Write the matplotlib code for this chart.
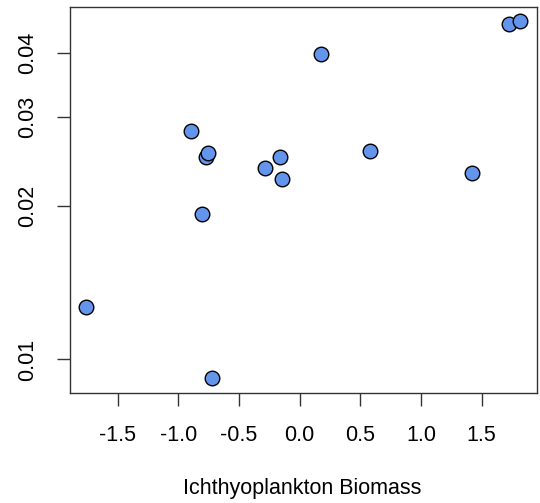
import matplotlib
matplotlib.use("Agg")
import matplotlib.pyplot as plt

# data (x = ichthyoplankton biomass, y on a log axis)
biomass = [-0.899, -0.770, -0.758, -0.284, -0.805, 0.173, 1.728, 1.814,
           -0.165, -0.143, 0.580, 1.418, -1.759, -0.723]
response = [0.0281, 0.0250, 0.0255, 0.0238, 0.0193, 0.0398, 0.0457, 0.0462,
            0.0250, 0.0226, 0.0257, 0.0233, 0.0127, 0.0092]

x_ticks = [-1.5, -1.0, -0.5, 0.0, 0.5, 1.0, 1.5]
y_ticks = [0.01, 0.02, 0.03, 0.04]
y_labels = ["0.01", "0.02", "0.03", "0.04"]

plt.rcParams['font.family'] = ['Liberation Sans', 'DejaVu Sans']

fig = plt.figure(figsize=(5.4, 5.03), dpi=100)
ax = fig.add_axes([0.129, 0.218, 0.865, 0.7675])

ax.scatter(biomass, response, s=110, c='#6495ED', edgecolors='black',
           linewidths=1.0, zorder=3)

ax.set_yscale('log')
ax.set_xlim(-1.896, 1.954)
ax.set_ylim(0.00858, 0.0492)

ax.set_xticks(x_ticks)
ax.set_xticklabels([f"{v:.1f}" for v in x_ticks])
ax.set_yticks(y_ticks)
ax.set_yticklabels(y_labels, rotation=90, va='center')
ax.minorticks_off()

ax.tick_params(axis='both', length=9.4, width=1.0, color='#333333',
               labelsize=15.5, direction='out')
ax.tick_params(axis='x', pad=13.5)
ax.tick_params(axis='y', pad=13)

for sp in ax.spines.values():
    sp.set_linewidth(1.0)
    sp.set_color('#333333')

fig.text(0.559, 0.028, "Ichthyoplankton Biomass", ha='center', va='center',
         fontsize=15.5)

fig.savefig("out.png", dpi=100)
